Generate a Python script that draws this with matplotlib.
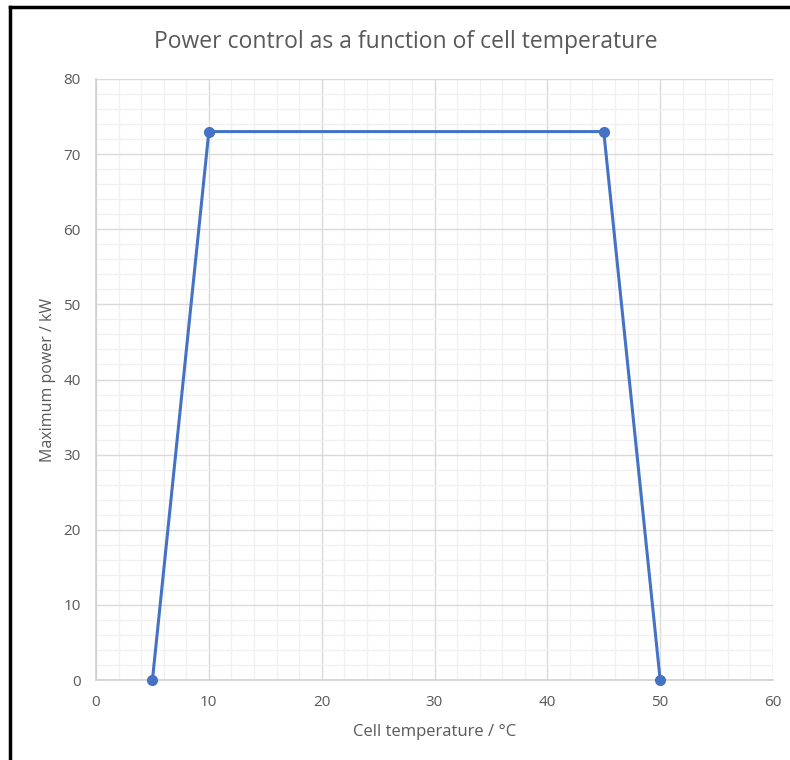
import matplotlib
matplotlib.use("Agg")
import matplotlib.pyplot as plt
from matplotlib.lines import Line2D
from matplotlib.ticker import MultipleLocator

plt.rcParams['font.family'] = ['Open Sans', 'DejaVu Sans']

temperature = [5, 10, 45, 50]
max_power = [0, 73, 73, 0]

x_ticks = [0, 10, 20, 30, 40, 50, 60]
y_ticks = [0, 10, 20, 30, 40, 50, 60, 70, 80]

title = "Power control as a function of cell temperature"
xlabel = "Cell temperature / °C"
ylabel = "Maximum power / kW"

fig = plt.figure(figsize=(7.9, 7.6), dpi=100)
ax = fig.add_axes([96/790, 1-680/760, (773-96)/790, (680-79)/760])

gray = '#595959'
ax.set_xlim(0, 60)
ax.set_ylim(0, 80)
ax.set_xticks(x_ticks)
ax.set_yticks(y_ticks)
ax.xaxis.set_minor_locator(MultipleLocator(2))
ax.yaxis.set_minor_locator(MultipleLocator(2))
ax.grid(which='major', color='#d9d9d9', linewidth=1.0)
ax.grid(which='minor', color='#f0f0f0', linewidth=1.0)
ax.set_axisbelow(True)
for s in ['top', 'right']:
    ax.spines[s].set_visible(False)
for s in ['left', 'bottom']:
    ax.spines[s].set_color('#d0d0d0')
    ax.spines[s].set_linewidth(1.2)
ax.tick_params(which='both', length=0, colors=gray, labelsize=11, pad=11)

ax.plot(temperature, max_power, color='#4472C4', linewidth=2.2, marker='o',
        markersize=7, clip_on=False, zorder=5)

ax.set_xlabel(xlabel, fontsize=12, color=gray, labelpad=10)
ax.set_ylabel(ylabel, fontsize=11.5, color=gray, labelpad=5)
fig.text(406/790, 1-42/760, title, ha='center', va='center',
         fontsize=16.5, color=gray)

fig.add_artist(Line2D([9.5/790, 9.5/790], [0, 1-7/760], transform=fig.transFigure, color='black', linewidth=2.5))
fig.add_artist(Line2D([9.5/790, 1], [1-7/760, 1-7/760], transform=fig.transFigure, color='black', linewidth=2.5))

fig.savefig('out.png', dpi=100)
